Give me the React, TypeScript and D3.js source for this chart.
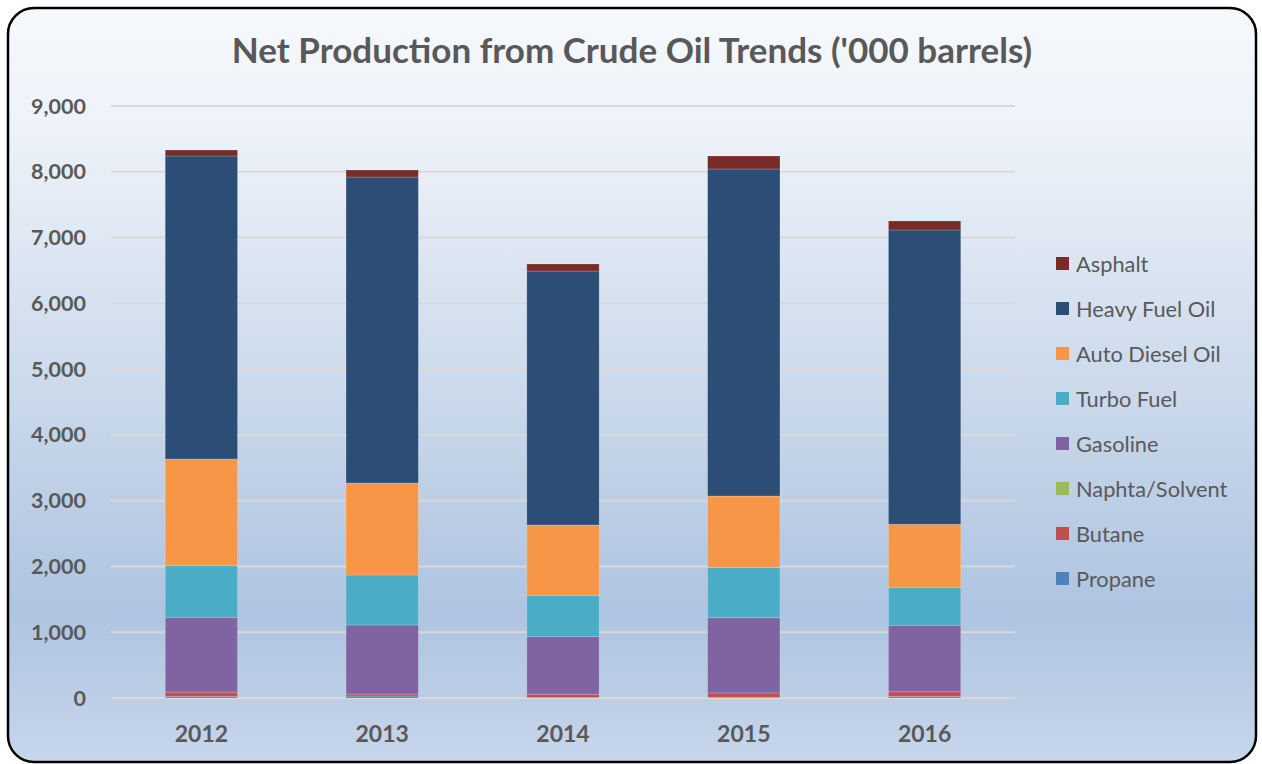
import * as d3 from "d3";

const years = ["2012", "2013", "2014", "2015", "2016"];
const seriesNames = [
  "Propane",
  "Butane",
  "Naphta/Solvent",
  "Gasoline",
  "Turbo Fuel",
  "Auto Diesel Oil",
  "Heavy Fuel Oil",
  "Asphalt",
];
const propane = [25, 30, 8, 12, 25];
const butane = [65, 30, 50, 65, 70];
const naphta = [0, 0, 0, 0, 0];
const gasoline = [1137, 1050, 874, 1144, 1010];
const turboFuel = [784, 760, 629, 760, 572];
const autoDiesel = [1622, 1398, 1069, 1090, 964];
const heavyFuel = [4607, 4652, 3861, 4971, 4474];
const asphalt = [91, 107, 107, 198, 137];
const yTicks = [0, 1000, 2000, 3000, 4000, 5000, 6000, 7000, 8000, 9000];

const colors = ["#4f81bd", "#c0504d", "#9bbb59", "#8064a2", "#4bacc6", "#f79646", "#2c4d75", "#772c2a"];

const W = 1262;
const H = 764;
const font = "Lato, 'Open Sans', sans-serif";
const grey = "#595959";

export default function App() {
  const cols = [propane, butane, naphta, gasoline, turboFuel, autoDiesel, heavyFuel, asphalt];
  const table = years.map((yr, i) => {
    const row: Record<string, number | string> = { year: yr };
    seriesNames.forEach((s, k) => (row[s] = cols[k][i]));
    return row;
  });
  const stacked = d3.stack<Record<string, number | string>>().keys(seriesNames)(table as any);

  const x = d3.scaleBand().domain(years).range([111, 1015]).paddingInner(0.6).paddingOuter(0.3);
  const y = d3.scaleLinear().domain([0, 9000]).range([698, 106]);
  const fmt = d3.format(",");

  const legendOrder = [...seriesNames].reverse();

  return (
    <svg width={W} height={H} style={{ position: "absolute", left: 0, top: 0 }}>
      <defs>
        <linearGradient id="bg" x1="0" y1="0" x2="0" y2="1">
          <stop offset="0" stopColor="#f6f9fc" />
          <stop offset="0.15" stopColor="#eef3f9" />
          <stop offset="0.8" stopColor="#aec4e0" />
          <stop offset="1" stopColor="#c7d6eb" />
        </linearGradient>
      </defs>
      <rect x={8} y={8} width={1248} height={754} rx={26} ry={26} fill="url(#bg)" stroke="#000" strokeWidth={2.5} />

      <text x={632} y={63} textAnchor="middle" fontFamily={font} fontWeight="bold" fontSize={35} fill={grey}>
        Net Production from Crude Oil Trends ('000 barrels)
      </text>

      {yTicks.map((t) => (
        <g key={t}>
          <line x1={111} x2={1015} y1={y(t)} y2={y(t)} stroke="#d9d9d9" strokeWidth={2} />
          <text x={86} y={y(t) + 7.5} textAnchor="end" fontFamily={font} fontWeight="bold" fontSize={21.5} fill={grey}>
            {fmt(t)}
          </text>
        </g>
      ))}

      {stacked.map((layer, k) => (
        <g key={layer.key} fill={colors[k]}>
          {layer.map((d, i) => (
            <rect
              key={i}
              x={x(years[i])}
              y={y(d[1])}
              width={x.bandwidth()}
              height={Math.max(0, y(d[0]) - y(d[1]))}
              stroke="rgba(255,255,255,0.25)"
              strokeWidth={0.75}
            />
          ))}
        </g>
      ))}

      {years.map((yr) => (
        <text
          key={yr}
          x={(x(yr) ?? 0) + x.bandwidth() / 2}
          y={742}
          textAnchor="middle"
          fontFamily={font}
          fontWeight="bold"
          fontSize={23}
          fill={grey}
        >
          {yr}
        </text>
      ))}

      {legendOrder.map((s, i) => {
        const cy = 264 + i * 45;
        return (
          <g key={s}>
            <rect x={1056} y={cy - 7} width={13} height={13} fill={colors[seriesNames.indexOf(s)]} />
            <text x={1076} y={cy + 7.5} fontFamily={font} fontSize={21.8} fill={grey}>
              {s}
            </text>
          </g>
        );
      })}
    </svg>
  );
}
